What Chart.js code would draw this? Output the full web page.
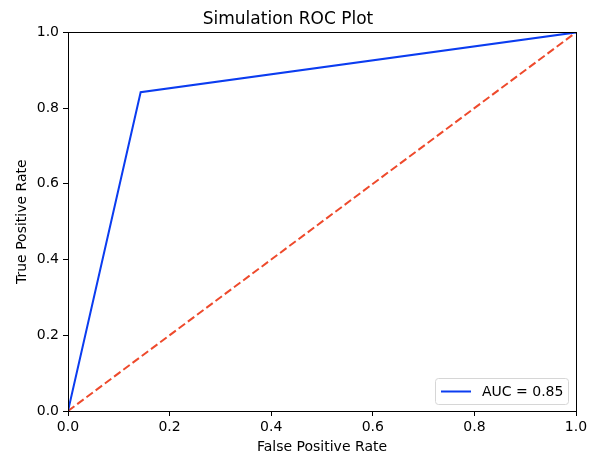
<!DOCTYPE html>
<html>
<head>
<meta charset="utf-8">
<script src="https://cdn.jsdelivr.net/npm/chart.js@4.4.1/dist/chart.umd.min.js"></script>
<style>
  html, body { margin: 0; padding: 0; background: #fff; }
  #wrap { width: 599px; height: 460px; }
</style>
</head>
<body>
<div id="wrap"><canvas id="out" width="599" height="460"></canvas></div>
<script>
const fpr = [0.0, 0.143, 1.0];
const tpr = [0.0, 0.842, 1.0];
const chanceX = [0.0, 1.0];
const chanceY = [0.0, 1.0];
const aucLabel = "AUC = 0.85";
const tickValues = [0.0, 0.2, 0.4, 0.6, 0.8, 1.0];

const FONT = "'DejaVu Sans', sans-serif";

function toPoints(xs, ys) {
    const pts = [];
    for (let i = 0; i < xs.length; i++) {
        pts.push({ x: xs[i], y: ys[i] });
    }
    return pts;
}

// spines + axis labels + legend box inside the plot
const framePlugin = {
    id: "frame",
    afterDraw(chart) {
        const ctx = chart.ctx;
        const a = chart.chartArea;
        ctx.save();
        ctx.strokeStyle = "#000";
        ctx.lineWidth = 1;
        ctx.strokeRect(Math.round(a.left) + 0.5, Math.round(a.top) + 0.5,
            Math.round(a.right - a.left), Math.round(a.bottom - a.top));

        ctx.fillStyle = "#000";
        ctx.font = "14px " + FONT;
        ctx.textAlign = "center";
        ctx.textBaseline = "middle";
        ctx.fillText("False Positive Rate", (a.left + a.right) / 2, 447);
        ctx.translate(22, (a.top + a.bottom) / 2);
        ctx.rotate(-Math.PI / 2);
        ctx.fillText("True Positive Rate", 0, 0);
        ctx.restore();

        // legend
        ctx.save();
        const bx = 435, by = 378, bw = 133, bh = 26;
        ctx.fillStyle = "rgba(255,255,255,0.8)";
        ctx.strokeStyle = "#d6d6d6";
        ctx.lineWidth = 1;
        ctx.beginPath();
        ctx.roundRect(bx + 0.5, by + 0.5, bw, bh, 3);
        ctx.fill();
        ctx.stroke();
        ctx.strokeStyle = chart.data.datasets[0].borderColor;
        ctx.lineWidth = 2;
        ctx.beginPath();
        ctx.moveTo(bx + 6, by + 13.5);
        ctx.lineTo(bx + 36, by + 13.5);
        ctx.stroke();
        ctx.fillStyle = "#000";
        ctx.font = "14px " + FONT;
        ctx.textAlign = "left";
        ctx.textBaseline = "middle";
        ctx.fillText(chart.data.datasets[0].label, bx + 47, by + 14);
        ctx.restore();
    }
};

const chartConfig = {
    type: "scatter",
    data: {
        datasets: [{
                label: aucLabel,
                data: toPoints(fpr, tpr),
                showLine: true,
                borderColor: "#0b3cf0",
                borderWidth: 2,
                pointRadius: 0,
                fill: false
            },
            {
                label: "chance",
                data: toPoints(chanceX, chanceY),
                showLine: true,
                borderColor: "#ee4a2c",
                borderWidth: 2,
                borderDash: [8, 3.5],
                pointRadius: 0,
                fill: false
            }
        ]
    },
    options: {
        responsive: false,
        animation: false,
        layout: { padding: { left: 0, right: 23, top: 0, bottom: 0 } },
        plugins: {
            legend: { display: false },
            tooltip: { enabled: false },
            title: {
                display: true,
                text: "Simulation ROC Plot",
                color: "#000",
                font: { family: FONT, size: 17, weight: "normal", lineHeight: 1.2 },
                padding: { top: 9, bottom: 3 }
            }
        },
        scales: {
            x: {
                type: "linear",
                min: 0,
                max: 1,
                afterFit(scale) { scale.height = 49; },
                afterBuildTicks(scale) { scale.ticks = tickValues.map(v => ({ value: v })); },
                grid: { display: true, drawOnChartArea: false, drawTicks: true, tickLength: 5, color: "#000" },
                border: { display: true, color: "#000", width: 1 },
                ticks: {
                    color: "#000",
                    padding: 3,
                    maxRotation: 0,
                    font: { family: FONT, size: 14 },
                    callback: v => v.toFixed(1)
                }
            },
            y: {
                type: "linear",
                min: 0,
                max: 1,
                afterFit(scale) { scale.width = 68; },
                afterBuildTicks(scale) { scale.ticks = tickValues.map(v => ({ value: v })); },
                grid: { display: true, drawOnChartArea: false, drawTicks: true, tickLength: 5, color: "#000" },
                border: { display: true, color: "#000", width: 1 },
                ticks: {
                    color: "#000",
                    padding: 4,
                    font: { family: FONT, size: 14 },
                    callback: v => v.toFixed(1)
                }
            }
        }
    },
    plugins: [framePlugin]
};

const canvasCtx = document.getElementById("out").getContext("2d");
window.chart = new Chart(canvasCtx, chartConfig);
</script>
</body>
</html>
